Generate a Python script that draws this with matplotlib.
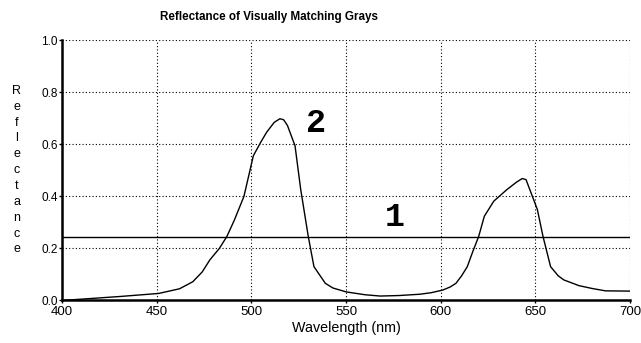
import matplotlib
matplotlib.use("Agg")
import matplotlib.pyplot as plt

plt.rcParams['font.family'] = ['Liberation Sans', 'DejaVu Sans']

# Spectral reflectance of sample 2 (nm, reflectance)
wavelength = [400, 416, 430, 451, 462, 469, 474, 478, 483, 487, 491, 496, 501,
              505, 508, 512, 515, 517, 519, 523, 526, 530, 533, 536, 539,
              543, 550, 560, 568, 578, 589, 595, 601, 605, 608, 611, 614,
              617, 620, 623, 628, 635, 640, 643, 645, 647, 651, 654, 658,
              662, 665, 673, 680, 687, 700]
refl_2 = [0.0, 0.008, 0.015, 0.027, 0.045, 0.072, 0.11, 0.156, 0.2, 0.246,
          0.31, 0.40, 0.557, 0.61, 0.647, 0.685, 0.699, 0.695, 0.673, 0.595,
          0.427, 0.246, 0.13, 0.098, 0.066, 0.048, 0.033, 0.022, 0.017, 0.019,
          0.024, 0.03, 0.04, 0.052, 0.066, 0.095, 0.13, 0.19, 0.246, 0.324,
          0.382, 0.427, 0.455, 0.469, 0.465, 0.427, 0.35, 0.246, 0.13, 0.095,
          0.079, 0.057, 0.046, 0.037, 0.036]

# Sample 1: spectrally flat gray
refl_1 = 0.245

x_ticks = [400, 450, 500, 550, 600, 650, 700]
y_ticks = [0.0, 0.2, 0.4, 0.6, 0.8, 1.0]

fig = plt.figure(figsize=(6.41, 3.43), dpi=100)
ax = fig.add_axes([0.097, 0.124, 0.886, 0.758])

ax.plot(wavelength, refl_2, color='black', lw=1.0)
ax.axhline(refl_1, color='black', lw=1.0)

ax.set_xlim(400, 700)
ax.set_ylim(0, 1.0)
ax.set_xticks(x_ticks)
ax.set_yticks(y_ticks)
ax.set_yticklabels([f"{v:.1f}" for v in y_ticks])
ax.grid(True, color='black', linestyle=(0, (1, 2)), lw=0.8)

for side in ['top', 'right']:
    ax.spines[side].set_visible(False)
ax.spines['left'].set_linewidth(1.8)
ax.spines['bottom'].set_linewidth(1.8)
ax.tick_params(axis='x', labelsize=9.5, length=2, width=1, pad=2)
ax.tick_params(axis='y', labelsize=8.5, length=2, width=1, pad=1)

ax.set_xlabel('Wavelength (nm)', fontsize=10.3, labelpad=2)
fig.text(0.42, 0.95, 'Reflectance of Visually Matching Grays', ha='center',
         va='center', fontsize=8.4, fontweight='bold')

# Stacked vertical axis label
fig.text(0.026, 0.504, '\n'.join('Reflectance'), ha='center', va='center',
         fontsize=9, linespacing=1.43)

label_font = ['Liberation Mono', 'DejaVu Sans Mono']
ax.text(534, 0.68, '2', fontsize=24, fontweight='bold',
        family=label_font, ha='center', va='center')
ax.text(575.5, 0.318, '1', fontsize=24, fontweight='bold',
        family=label_font, ha='center', va='center')

fig.savefig('out.png', dpi=100)
